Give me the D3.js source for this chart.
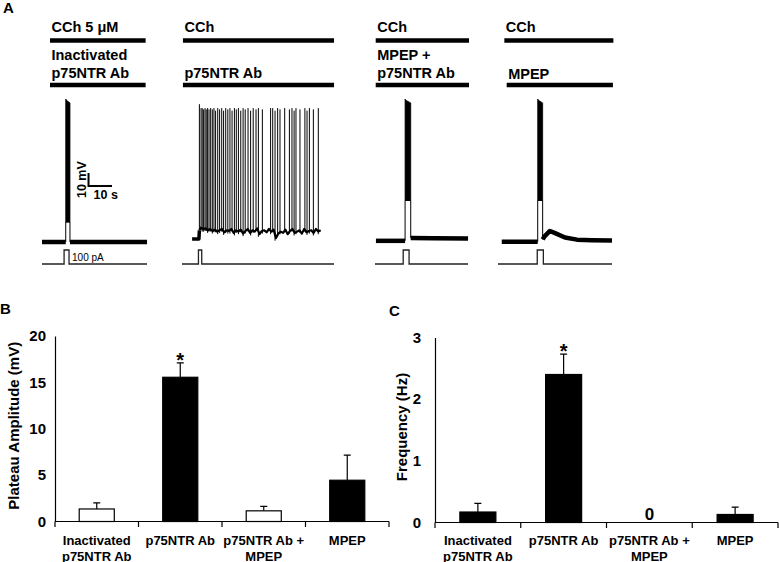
<!DOCTYPE html>
<html lang="en">
  <head>
    <meta charset="utf-8">
    <title>p75NTR Ab plateau</title>
    <style>
      body { margin: 0; background: #fff; }
      svg { display: block; font-family: "Liberation Sans", Arial, sans-serif; }
    </style>
  </head>
  <body>
    <svg id="chart"></svg>

    <script src="https://d3js.org/d3.v7.min.js"></script>

    <script type="text/javascript">
      // ---- panels B and C ----
      const categories = ["Inactivated p75NTR Ab", "p75NTR Ab", "p75NTR Ab + MPEP", "MPEP"];
      const categoryLines = [["Inactivated", "p75NTR Ab"], ["p75NTR Ab"], ["p75NTR Ab +", "MPEP"], ["MPEP"]];
      const plateauMean = [1.35, 15.55, 1.15, 4.45];
      const plateauSem = [0.65, 1.55, 0.48, 2.7];
      const plateauStar = [false, true, false, false];
      const plateauTicks = [0, 5, 10, 15, 20];
      const freqMean = [0.17, 2.40, 0, 0.13];
      const freqSem = [0.14, 0.33, 0, 0.12];
      const freqStar = [false, true, false, false];
      const freqZero = [false, false, true, false];
      const freqTicks = [0, 1, 2, 3];

      // ---- panel A (time in s, potential in mV above rest, current in pA) ----
      const cchLabels = ["CCh 5 μM", "CCh", "CCh", "CCh"];
      const drugLabels = [["Inactivated", "p75NTR Ab"], ["p75NTR Ab"], ["MPEP +", "p75NTR Ab"], ["MPEP"]];
      const cchWindows = [[3.4, 44.1], [0.4, 64.7], [0.3, 40], [2.7, 49.1]];
      const drugWindows = [[3.4, 44.1], [0.4, 64.7], [0.3, 40], [3.7, 48.9]];
      const currentSpans = [[0, 44.7], [0, 64.7], [0, 39.6], [0, 48.5]];
      const pulseWindows = [[9.4, 11.5], [7.0, 8.4], [12.0, 14.5], [16.7, 19.3]];
      const pulseAmp = 100;

      const vmBefore = [
        [[0, 0], [10.1, 0]],
        [[4.3, 2.3], [7.2, 2.3], [7.4, 9]],
        [[0.4, 0.9], [12.8, 0.9]],
        [[1.6, 0.2], [16.9, 0.2]]
      ];
      const vmAfter = [
        [[11.9, 0], [44.7, 0]],
        [],
        [[15.2, 3], [25, 2.8], [39.6, 2.6]],
        [[19.0, 2], [19.9, 4.6], [22.1, 8.5], [24.3, 6.8], [28.5, 3.5], [33.6, 1.8], [40, 1.4], [48.5, 1.2]]
      ];
      // [start, end, floor, peak at start, peak at end]
      const bursts = [[10.1, 11.9, 15.4, 110, 107], null, [12.8, 15.2, 32, 110, 107], [16.9, 19.0, 32, 110, 107]];

      // p75NTR Ab trace: plateau sampled every second from 8 s
      const plateauStart = 8;
      const plateauVm = [11, 10, 10.5, 9, 10, 8.5, 9.5, 8, 9, 10, 7.5, 9, 8.5, 10, 7, 9, 8, 9.5, 6.5, 8.5,
                         10, 7, 9, 8, 10.5, 6, 8.5, 9, 7.5, 10, 8, 9.5, 3, 6.5, 8, 7, 9.5, 6, 8.5, 10,
                         7, 8, 9, 6.5, 10, 7.5, 8.5, 9, 7, 10, 8, 9];
      const spikes = [[7.4, 106], [8.1, 103], [8.6, 103], [9.2, 102], [9.8, 103], [10.3, 102], [10.9, 103],
                      [11.5, 102], [12.2, 103], [12.9, 102], [13.6, 103], [14.3, 101], [15.2, 103], [16.0, 102],
                      [16.9, 103], [17.7, 101], [18.6, 103], [19.5, 102], [20.4, 103], [21.3, 101], [22.3, 103],
                      [23.1, 102], [24.0, 103], [25.0, 101], [26.0, 103], [26.9, 102], [28.1, 103], [29.2, 101],
                      [30.3, 103], [31.5, 102], [32.5, 103], [34.2, 102], [37.7, 103], [38.6, 103], [39.6, 101],
                      [40.7, 103], [41.7, 102], [43.7, 103], [45.7, 102], [46.8, 103], [47.7, 101], [48.5, 103],
                      [50.2, 102], [52.3, 103], [53.2, 101], [54.2, 103], [55.9, 102], [58.0, 103]];
      const scaleBar = { t: 19.8, v: 43, dt: 10, dv: 10 };

      const W = 779, H = 562;
      const svg = d3.select('#chart').attr('width', W).attr('height', H);
      svg.append('rect').attr('width', W).attr('height', H).attr('fill', '#fff');

      const bold = 'bold';

      // ================= panel A =================
      svg.append('text').attr('x', 3).attr('y', 13).attr('font-size', 15).attr('font-weight', bold).text('A');

      const traceX0 = [42, 182, 375, 498];
      const secPx = 2.35, mvPx = 1.3;
      const vmY = d3.scaleLinear().domain([0, 110]).range([242, 242 - 110 * mvPx]);
      const pA = d3.scaleLinear().domain([0, 100]).range([264, 250]);
      const line = d3.line();

      traceX0.forEach((x0, i) => {
        const tx = d3.scaleLinear().domain([0, 70]).range([x0, x0 + 70 * secPx]);
        const g = svg.append('g');

        // application bars and labels
        const cch = cchWindows[i], drug = drugWindows[i];
        g.append('line').attr('x1', tx(cch[0])).attr('x2', tx(cch[1]))
          .attr('y1', 40.5).attr('y2', 40.5).attr('stroke', '#000').attr('stroke-width', 4.5);
        g.append('text').attr('x', tx(cch[0]) + 1.5).attr('y', 31.5)
          .attr('font-size', 14.5).attr('font-weight', bold).text(cchLabels[i]);
        g.append('line').attr('x1', tx(drug[0])).attr('x2', tx(drug[1]))
          .attr('y1', 85).attr('y2', 85).attr('stroke', '#000').attr('stroke-width', 4.5);
        const lines = drugLabels[i];
        const lastBase = i === 3 ? 79 : 77.5;
        lines.forEach((s, k) => {
          g.append('text').attr('x', tx(drug[0]) + 1.5).attr('y', lastBase - (lines.length - 1 - k) * 18)
            .attr('font-size', 14.5).attr('font-weight', bold).text(s);
        });

        // current step
        const p = pulseWindows[i], span = currentSpans[i];
        const cur = [[span[0], 0], [p[0], 0], [p[0], pulseAmp], [p[1], pulseAmp], [p[1], 0], [span[1], 0]];
        g.append('path').attr('d', line(cur.map(d => [tx(d[0]), pA(d[1])])))
          .attr('fill', 'none').attr('stroke', '#222').attr('stroke-width', 1.3);

        // membrane potential, noisy baseline as thick stroke
        const thick = i === 1 ? 3.5 : 4.5;
        [vmBefore[i], vmAfter[i]].forEach(seg => {
          if (!seg.length) return;
          g.append('path').attr('d', line(seg.map(d => [tx(d[0]), vmY(d[1])])))
            .attr('fill', 'none').attr('stroke', '#000').attr('stroke-width', thick)
            .attr('stroke-linejoin', 'round');
        });

        const b = bursts[i];
        if (b) {
          const before = vmBefore[i][vmBefore[i].length - 1][1];
          const after = vmAfter[i][0][1];
          g.append('path')
            .attr('d', line([[b[0], before], [b[0], b[2]], [b[1], b[2]], [b[1], after]].map(d => [tx(d[0]), vmY(d[1])])))
            .attr('fill', 'none').attr('stroke', '#000').attr('stroke-width', 1);
          g.append('path')
            .attr('d', line([[b[0], b[2]], [b[0], b[3]], [b[0] + 0.3, b[3] - 1], [b[1], b[4]], [b[1], b[2]]]
              .map(d => [tx(d[0]), vmY(d[1])])) + 'Z')
            .attr('fill', '#000').attr('stroke', '#000').attr('stroke-width', 0.8);
        } else {
          // p75NTR Ab: noisy plateau with repetitive firing
          const pts = plateauVm.map((v, k) => [plateauStart + k, v]);
          g.append('path').attr('d', line([[7.4, 9], ...pts].map(d => [tx(d[0]), vmY(d[1])])))
            .attr('fill', 'none').attr('stroke', '#000').attr('stroke-width', 2.2)
            .attr('stroke-linejoin', 'round');
          g.selectAll('line.spike').data(spikes).join('line').attr('class', 'spike')
            .attr('x1', d => tx(d[0])).attr('x2', d => tx(d[0]))
            .attr('y1', d => {
              const k = Math.max(0, Math.min(plateauVm.length - 1, Math.round(d[0] - plateauStart)));
              return vmY(plateauVm[k] - 2);
            })
            .attr('y2', d => vmY(d[1]))
            .attr('stroke', '#000').attr('stroke-width', 1);
        }

        if (i === 0) {
          // scale bar
          const sx = tx(scaleBar.t), sy = vmY(scaleBar.v);
          const ex = tx(scaleBar.t + scaleBar.dt), ey = vmY(scaleBar.v + scaleBar.dv);
          g.append('path').attr('d', `M${sx},${ey}V${sy}H${ex}`)
            .attr('fill', 'none').attr('stroke', '#000').attr('stroke-width', 2);
          g.append('text').attr('transform', `translate(${sx - 3},${(sy + ey) / 2}) rotate(-90)`)
            .attr('text-anchor', 'middle').attr('font-size', 12.5).attr('font-weight', bold).text('10 mV');
          g.append('text').attr('x', sx + 5).attr('y', sy + 13)
            .attr('font-size', 12.5).attr('font-weight', bold).text('10 s');
          g.append('text').attr('x', tx(p[1]) + 3).attr('y', 260.5)
            .attr('font-size', 10).text('100 pA');
        }
      });

      // ================= panels B and C =================
      function barPanel(opt) {
        const g = svg.append('g');
        const x = d3.scaleBand().domain(categories).range([opt.x0, opt.x1]);
        const y = d3.scaleLinear().domain([0, opt.ticks[opt.ticks.length - 1]]).range([opt.yBase, opt.yTop]);
        const bw = x.bandwidth() * 0.42;

        g.append('text').attr('x', opt.letterX).attr('y', opt.letterY)
          .attr('font-size', 15).attr('font-weight', bold).text(opt.letter);

        // y axis
        const ya = g.append('g').attr('transform', `translate(${opt.x0},0)`)
          .call(d3.axisLeft(y).tickValues(opt.ticks).tickSize(0).tickPadding(opt.pad).tickFormat(d3.format('d')));
        ya.select('.domain').attr('stroke', '#000').attr('stroke-width', 1.2);
        ya.selectAll('text').attr('font-size', 15).attr('font-weight', bold)
          .attr('font-family', '"Liberation Sans", Arial, sans-serif').attr('fill', '#000');

        g.append('text')
          .attr('transform', `translate(${opt.titleX},${(opt.yBase + opt.yTop) / 2 - 3}) rotate(-90)`)
          .attr('text-anchor', 'middle').attr('font-size', 15).attr('font-weight', bold).text(opt.title);

        // error bars (upper only)
        g.selectAll('path.err').data(categories).join('path').attr('class', 'err')
          .attr('d', (c, i) => {
            if (opt.sem[i] === 0) return null;
            const cx = x(c) + x.bandwidth() / 2;
            const t = y(opt.mean[i] + opt.sem[i]);
            return `M${cx},${y(opt.mean[i])}V${t}M${cx - 3.5},${t}H${cx + 3.5}`;
          })
          .attr('fill', 'none').attr('stroke', '#000').attr('stroke-width', 1.2);

        // bars
        g.selectAll('rect.bar').data(categories).join('rect').attr('class', 'bar')
          .attr('x', c => x(c) + (x.bandwidth() - bw) / 2)
          .attr('width', bw)
          .attr('y', (c, i) => y(opt.mean[i]))
          .attr('height', (c, i) => opt.yBase - y(opt.mean[i]))
          .attr('fill', (c, i) => opt.open[i] ? '#fff' : '#000')
          .attr('stroke', '#000').attr('stroke-width', 1.2);

        // x axis with boundary ticks
        g.append('line').attr('x1', opt.x0).attr('x2', opt.x1).attr('y1', opt.yBase).attr('y2', opt.yBase)
          .attr('stroke', '#000').attr('stroke-width', 1.2);
        const bounds = categories.map(c => x(c)).concat([opt.x1]);
        g.selectAll('line.tick').data(bounds).join('line').attr('class', 'tick')
          .attr('x1', d => d).attr('x2', d => d).attr('y1', opt.yBase).attr('y2', opt.yBase + 5.5)
          .attr('stroke', '#000').attr('stroke-width', 1.2);

        categoryLines.forEach((ls, i) => {
          const t = g.append('text').attr('text-anchor', 'middle')
            .attr('font-size', 13).attr('font-weight', bold);
          ls.forEach((s, k) => {
            t.append('tspan').attr('x', x(categories[i]) + x.bandwidth() / 2)
              .attr('y', 545 + k * 15.5).text(s);
          });
        });

        // asterisks and zero marks
        categories.forEach((c, i) => {
          const cx = x(c) + x.bandwidth() / 2;
          if (opt.star[i]) {
            g.append('text').attr('x', cx).attr('y', y(opt.mean[i] + opt.sem[i]) + 4)
              .attr('text-anchor', 'middle').attr('font-size', 20).attr('font-weight', bold).text('*');
          }
          if (opt.zero && opt.zero[i]) {
            g.append('text').attr('x', cx).attr('y', opt.yBase - 3)
              .attr('text-anchor', 'middle').attr('font-size', 17).attr('font-weight', bold).text('0');
          }
        });
      }

      barPanel({
        letter: 'B', letterX: 0, letterY: 314,
        x0: 55, x1: 389, yBase: 521.5, yTop: 336, pad: 9, titleX: 19,
        ticks: plateauTicks, mean: plateauMean, sem: plateauSem, star: plateauStar,
        open: [true, false, true, false], title: 'Plateau Amplitude (mV)'
      });

      barPanel({
        letter: 'C', letterX: 389, letterY: 316,
        x0: 435, x1: 778, yBase: 522.5, yTop: 337.5, pad: 14, titleX: 407,
        ticks: freqTicks, mean: freqMean, sem: freqSem, star: freqStar, zero: freqZero,
        open: [false, false, false, false], title: 'Frequency (Hz)'
      });
    </script>
  </body>
</html>
